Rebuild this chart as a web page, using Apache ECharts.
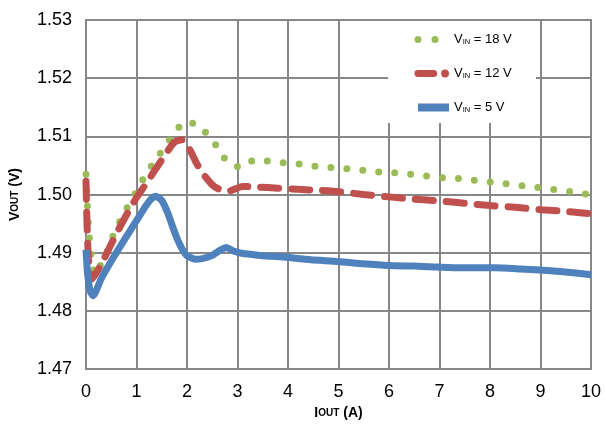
<!DOCTYPE html>
<html>
<head>
<meta charset="utf-8">
<script src="https://cdn.jsdelivr.net/npm/echarts@6/dist/echarts.min.js"></script>
<style>html,body{margin:0;padding:0;background:#fff;}#c{width:606px;height:425px;}</style>
</head>
<body>
<div id="c"></div>
<script>
const xTicks = [0,1,2,3,4,5,6,7,8,9,10];
const yTicks = [1.47,1.48,1.49,1.50,1.51,1.52,1.53];
const seriesNames = ['VIN = 18 V','VIN = 12 V','VIN = 5 V'];

const v18 = [[0,1.5035],[0.02,1.4995],[0.05,1.4945],[0.1,1.4895],[0.18,1.4862],[0.35,1.489],[0.47,1.4912],[0.57,1.4938],[0.73,1.4963],[0.87,1.4987],[1.04,1.5011],[1.18,1.5035],[1.38,1.5059],[1.56,1.5083],[1.75,1.5105],[1.95,1.5125],[2.2,1.5120],[2.44,1.5100],[2.63,1.5078],[2.8,1.5056],[3.07,1.5047],[3.35,1.5060],[3.64,1.5057],[3.98,1.5054],[4.3,1.5052],[4.6,1.5048],[4.92,1.5046],[5.24,1.5044],[5.57,1.5041],[5.89,1.5038],[6.2,1.5037],[6.52,1.5034],[6.85,1.5031],[7.16,1.5028],[7.48,1.5027],[7.8,1.5023],[8.11,1.5021],[8.43,1.5017],[8.74,1.5014],[9.06,1.5011],[9.39,1.5007],[9.7,1.5004],[10,1.4999]];

const v12 = [[0,1.5023],[0.02,1.495],[0.05,1.489],[0.12,1.4855],[0.3,1.488],[0.5,1.4915],[0.68,1.4946],[0.98,1.4992],[1.2,1.502],[1.35,1.504],[1.55,1.5066],[1.75,1.509],[1.9,1.5094],[2.05,1.5078],[2.2,1.5052],[2.35,1.5032],[2.55,1.5013],[2.8,1.5005],[3.1,1.5014],[3.4,1.5013],[3.8,1.5011],[4.2,1.5009],[4.65,1.5007],[5.0,1.5005],[5.5,1.5000],[6.0,1.4996],[6.5,1.4992],[7.0,1.4989],[7.5,1.4985],[8.0,1.4981],[8.5,1.4978],[9.0,1.4974],[9.5,1.4971],[10,1.4967]];

const v5 = [[0,1.4905],[0.03,1.4865],[0.08,1.4835],[0.14,1.4826],[0.3,1.4855],[0.53,1.489],[0.86,1.4936],[1.05,1.4962],[1.18,1.498],[1.3,1.4993],[1.38,1.4997],[1.5,1.4990],[1.62,1.4968],[1.71,1.4946],[1.8,1.4925],[1.9,1.4907],[2.0,1.4895],[2.16,1.4889],[2.3,1.4890],[2.49,1.4895],[2.65,1.4904],[2.78,1.4909],[2.92,1.4903],[3.08,1.4899],[3.5,1.4895],[3.86,1.4893],[4.45,1.4888],[5.0,1.4885],[5.49,1.4881],[6.0,1.4878],[6.5,1.4877],[6.8,1.4876],[7.5,1.4874],[8.1,1.4874],[8.6,1.4872],[9.2,1.4869],[9.6,1.4866],[10,1.4862]];

const colors = ['#9BBB59','#C0504D','#4F81BD'];
const grid = '#878787';
const font = 'Liberation Sans, Arial, sans-serif';

// legend icon shapes (35 x 8 box; degenerate corner points fix the bounds)
const box = 'M0,0 L0,0 M35,8 L35,8 ';
const iconDots = 'path://' + box + 'M0.5,4 A3.5,3.5 0 1,0 7.5,4 A3.5,3.5 0 1,0 0.5,4 Z M17.5,4 A3.5,3.5 0 1,0 24.5,4 A3.5,3.5 0 1,0 17.5,4 Z';
const iconDash = 'path://' + box + 'M4,0.5 L20,0.5 A3.5,3.5 0 0,1 20,7.5 L4,7.5 A3.5,3.5 0 0,1 4,0.5 Z M27.5,4 A4,4 0 1,0 35.5,4 A4,4 0 1,0 27.5,4 Z';
const iconBar = 'path://' + box + 'M4,0 L35,0 L35,8 L4,8 Z';
const icons = [iconDots, iconDash, iconBar];

const chart = echarts.init(document.getElementById('c'));
chart.setOption({
  animation: false,
  backgroundColor: '#fff',
  grid: {left: 83, right: 15, top: 20, bottom: 54, show: true, borderColor: grid, borderWidth: 2},
  graphic: [{
    type: 'rect', z: 3, silent: true,
    shape: {x: 388, y: 21, width: 148, height: 102},
    style: {fill: '#fff'}
  }],
  legend: {
    show: true, z: 10,
    left: 388, top: 23,
    orient: 'vertical',
    padding: [10, 18, 9, 26],
    itemGap: 21,
    itemWidth: 35, itemHeight: 8,
    data: seriesNames.map((n, i) => ({name: n, icon: icons[i], itemStyle: {color: colors[i], borderWidth: 0}})),
    formatter: function (n) { return '{a|V}{b|IN}{a|' + n.slice(3) + '}'; },
    textStyle: {
      fontFamily: font, color: '#000',
      rich: {
        a: {fontSize: 13, fontFamily: font, color: '#000'},
        b: {fontSize: 7.5, fontFamily: font, color: '#000', verticalAlign: 'bottom', padding: [5,0,0,0]}
      }
    }
  },
  xAxis: {
    type: 'value', min: 0, max: 10, interval: 1,
    name: '{a|I}{b|OUT}{a| (A)}',
    nameLocation: 'middle', nameGap: 31,
    nameTextStyle: {
      rich: {
        a: {fontSize: 14, fontWeight: 'bold', fontFamily: font, color: '#000'},
        b: {fontSize: 10, fontWeight: 'bold', fontFamily: font, color: '#000'}
      }
    },
    axisLine: {lineStyle: {color: grid, width: 2}},
    axisTick: {show: false},
    splitLine: {show: true, lineStyle: {color: grid, width: 2}},
    axisLabel: {fontSize: 18, fontFamily: font, color: '#000', margin: 14,
      formatter: function (v) { return xTicks.indexOf(v) >= 0 ? String(v) : ''; }}
  },
  yAxis: {
    type: 'value', min: yTicks[0], max: yTicks[yTicks.length-1], interval: 0.01,
    name: '{a|V}{b|OUT}{a| (V)}',
    nameLocation: 'middle', nameGap: 64, nameRotate: 90,
    nameTextStyle: {
      rich: {
        a: {fontSize: 14, fontWeight: 'bold', fontFamily: font, color: '#000'},
        b: {fontSize: 10, fontWeight: 'bold', fontFamily: font, color: '#000'}
      }
    },
    axisLine: {show: true, lineStyle: {color: grid, width: 2}},
    axisTick: {show: false},
    splitLine: {show: true, lineStyle: {color: grid, width: 2}},
    axisLabel: {fontSize: 18, fontFamily: font, color: '#000', margin: 14,
      formatter: function (v) { return v.toFixed(2); }}
  },
  series: [
    {name: seriesNames[0], type: 'line', data: v18, showSymbol: false, symbol: 'none', smooth: 0.2, color: colors[0],
     lineStyle: {width: 7, color: colors[0], type: [0, 16], cap: 'round'}},
    {name: seriesNames[1], type: 'line', data: v12, showSymbol: false, symbol: 'none', smooth: 0.2, color: colors[1],
     lineStyle: {width: 7, color: colors[1], type: [18, 13], cap: 'round'}},
    {name: seriesNames[2], type: 'line', data: v5, showSymbol: false, symbol: 'none', smooth: 0.2, color: colors[2],
     lineStyle: {width: 7, color: colors[2], type: 'solid', cap: 'butt', join: 'round'}}
  ]
});
</script>
</body>
</html>
